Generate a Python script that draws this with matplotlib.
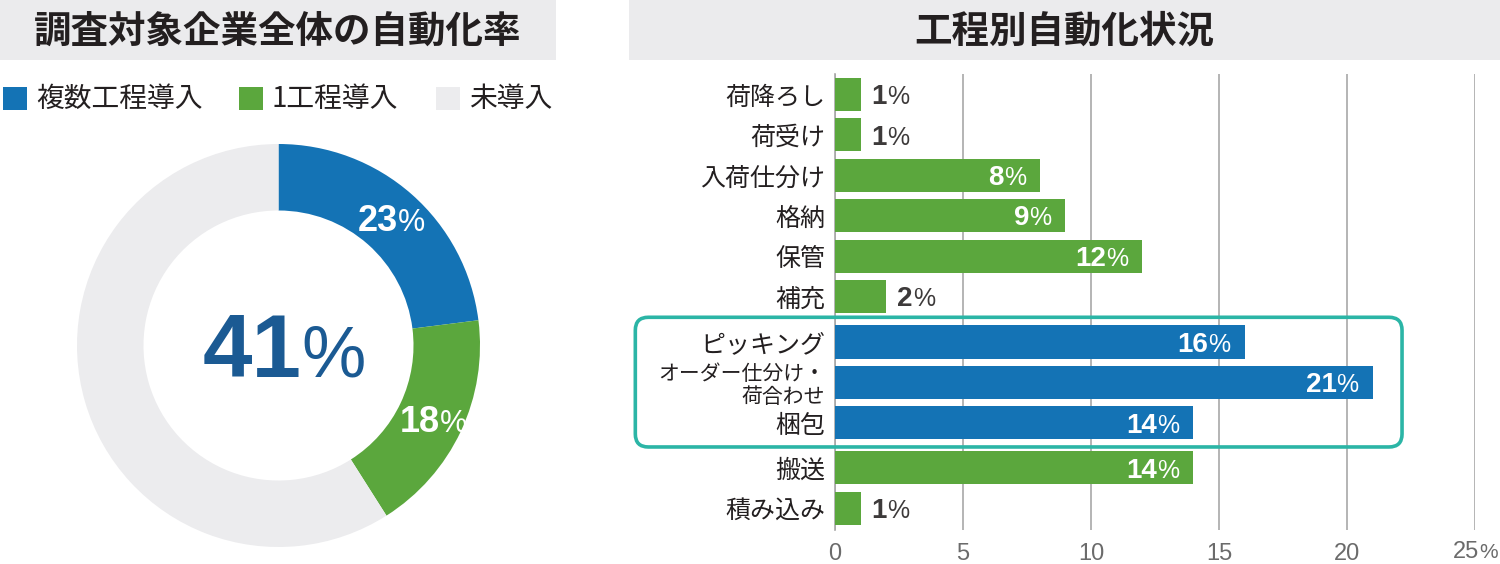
import matplotlib
matplotlib.use('Agg')
import matplotlib.pyplot as plt
import numpy as np
from matplotlib.patches import Rectangle, FancyBboxPatch
from matplotlib.transforms import IdentityTransform
from matplotlib.offsetbox import TextArea, HPacker, AnnotationBbox

plt.rcParams['font.family'] = ['Noto Sans CJK JP', 'DejaVu Sans']

# --- data ---
overall_labels = ['複数工程導入', '1工程導入', '未導入']
overall_values = [23, 18, 59]
overall_total = 41

process_names = ['荷降ろし', '荷受け', '入荷仕分け', '格納', '保管', '補充',
                 'ピッキング', 'オーダー仕分け・\n荷合わせ', '梱包', '搬送', '積み込み']
process_values = [1, 1, 8, 9, 12, 2, 16, 21, 14, 14, 1]
highlighted = ['ピッキング', 'オーダー仕分け・\n荷合わせ', '梱包']
x_ticks = [0, 5, 10, 15, 20, 25]

left_title = '調査対象企業全体の自動化率'
right_title = '工程別自動化状況'

BLUE = '#1473b5'
GREEN = '#5ba73d'
LIGHT = '#ececee'
TEAL = '#2bb5a6'
DARK = '#231f20'
NUM_FONT = ['Liberation Sans', 'DejaVu Sans']

W, H = 1500, 564


def fx(px):
    return px / W


def fy(py):
    return 1 - py / H


def pct_label(ax, xy, num, size, pct_size, color, align=(0.5, 0.5),
              xycoords='data', offset=(0, 0), weight='bold', pct_weight='normal'):
    # number followed by a smaller percent sign, on a shared baseline
    num_area = TextArea(num, textprops=dict(fontsize=size, fontweight=weight,
                                            color=color, family=NUM_FONT))
    pct_area = TextArea('%', textprops=dict(fontsize=pct_size, fontweight=pct_weight,
                                            color=color, family=NUM_FONT))
    box = HPacker(children=[num_area, pct_area], align='baseline', pad=0, sep=0)
    ab = AnnotationBbox(box, xy, xycoords=xycoords, xybox=offset,
                        boxcoords='offset points', box_alignment=align,
                        frameon=False, pad=0, annotation_clip=False)
    ax.add_artist(ab)


fig = plt.figure(figsize=(W / 100, H / 100), dpi=100)

# title bands
fig.add_artist(Rectangle((0, fy(60)), fx(556), 60 / H, transform=fig.transFigure,
                         color='#ebebed', lw=0, zorder=0))
fig.add_artist(Rectangle((fx(629), fy(60)), fx(871), 60 / H, transform=fig.transFigure,
                         color='#ebebed', lw=0, zorder=0))
fig.text(fx(278), fy(31), left_title, fontsize=27, fontweight='bold',
         ha='center', va='center', color=DARK)
fig.text(fx(1064), fy(31), right_title, fontsize=27, fontweight='bold',
         ha='center', va='center', color=DARK)

# legend
legend_x = [3, 239, 436]
for lx, lab, col in zip(legend_x, overall_labels, [BLUE, GREEN, LIGHT]):
    fig.add_artist(Rectangle((fx(lx), fy(110)), fx(24), 23 / H,
                             transform=fig.transFigure, color=col, lw=0))
    fig.text(fx(lx + 33), fy(99), lab, fontsize=20, ha='left', va='center', color=DARK)

# donut
ax_pie = fig.add_axes([fx(77), fy(547), fx(403), 403 / H])
ax_pie.pie(overall_values, colors=[BLUE, GREEN, LIGHT], startangle=90,
           counterclock=False, radius=1,
           wedgeprops=dict(width=0.33, linewidth=0))
ax_pie.set_xlim(-1, 1)
ax_pie.set_ylim(-1, 1)
ax_pie.axis('off')

cum = np.concatenate([[0], np.cumsum(overall_values)])
for i in range(2):
    mid = np.deg2rad(90 - 3.6 * (cum[i] + overall_values[i] / 2))
    r = 0.85
    pct_label(ax_pie, (r * np.cos(mid), r * np.sin(mid)), str(overall_values[i]),
              26, 22, 'white', offset=(0, -3))

pct_label(ax_pie, (0.03, 0.0), str(overall_total), 64, 52, '#1b5a93', offset=(0, -6))

# bar chart
ax = fig.add_axes([fx(835), fy(530), fx(640), 456 / H])
n = len(process_names)
idx = np.arange(n)
first = process_names.index(highlighted[0])
last = process_names.index(highlighted[-1])
pos = idx + 0.125 * (idx >= first) + 0.115 * (idx > last)
colors = [BLUE if name in highlighted else GREEN for name in process_names]

ax.barh(pos, process_values, height=0.82, color=colors, zorder=3)
ax.set_xlim(0, 25)
ax.set_ylim(pos[-1] + 0.54, pos[0] - 0.507)

ax.set_xticks(x_ticks)
ax.set_xticklabels([str(t) for t in x_ticks[:-1]] + [''], fontsize=17,
                   color='#6b6b6b', family=NUM_FONT)
pct_label(ax, (x_ticks[-1], 0), str(x_ticks[-1]), 17, 15, '#6b6b6b',
          align=(0.5, 1), xycoords=('data', 'axes fraction'), offset=(0, -8),
          weight='normal')
ax.set_yticks(pos)
ax.set_yticklabels(process_names, fontsize=18, color=DARK)
for lbl in ax.get_yticklabels():
    if '\n' in lbl.get_text():
        lbl.set_fontsize(15)
        lbl.set_linespacing(1.05)
ax.tick_params(length=0)
ax.tick_params(axis='y', pad=7)
ax.tick_params(axis='x', pad=9)

ax.xaxis.grid(True, color='#a8a8a8', lw=1.2)
ax.set_axisbelow(True)
for side in ['top', 'right', 'bottom']:
    ax.spines[side].set_visible(False)
ax.spines['left'].set_color('#a8a8a8')
ax.spines['left'].set_linewidth(1.2)

for p, v in zip(pos, process_values):
    if v < 5:
        pct_label(ax, (v, p), str(v), 20, 18, '#3d3a3a', align=(0, 0.5), offset=(8, -2))
    else:
        pct_label(ax, (v, p), str(v), 20, 18, 'white', align=(1, 0.5), offset=(-10, -2))

# highlight frame around the grouped processes
x0, y0 = ax.transData.transform((-7.8, pos[last] + 0.6))
x1, y1 = ax.transData.transform((22.15, pos[first] - 0.61))
frame = FancyBboxPatch((x0, y0), x1 - x0, y1 - y0,
                       boxstyle='round,pad=0,rounding_size=13',
                       transform=IdentityTransform(), fill=False,
                       edgecolor=TEAL, lw=2.6, zorder=5)
fig.add_artist(frame)

fig.savefig('out.png', dpi=100)
